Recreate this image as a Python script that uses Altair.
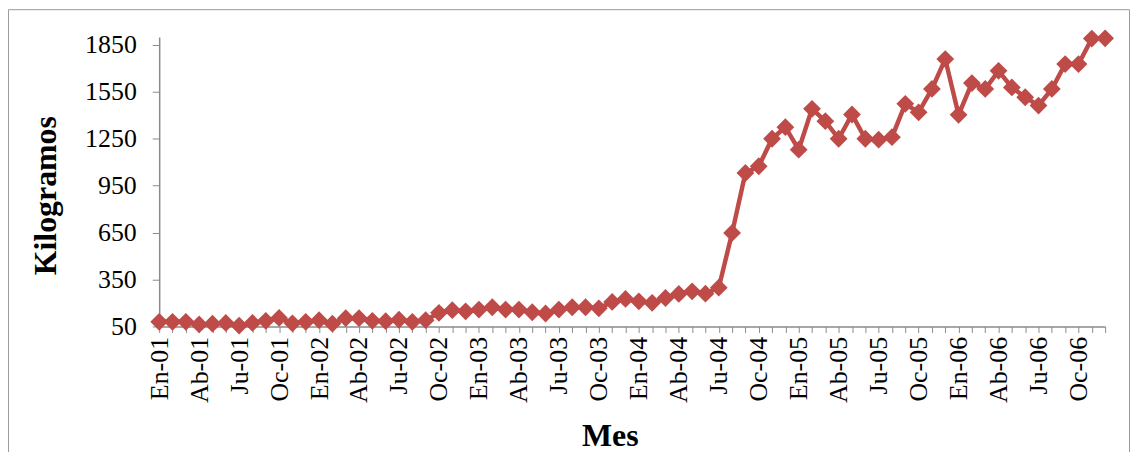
import altair as alt
import pandas as pd

# --- data -------------------------------------------------------------
months = ["En", "Fe", "Mr", "Ab", "My", "Jn", "Ju", "Ag", "Se", "Oc", "No", "Di"]
years = ["01", "02", "03", "04", "05", "06"]
mes = [f"{m}-{y}" for y in years for m in months]

kilogramos = [
    80, 80, 80, 63, 68, 73, 56, 73, 86, 105, 70, 80,            # 2001
    90, 68, 103, 103, 86, 84, 93, 80, 90, 137, 154, 147,        # 2002
    158, 173, 158, 158, 141, 133, 158, 173, 173, 166, 207, 226, # 2003
    211, 201, 232, 258, 275, 260, 298, 648, 1031, 1074, 1250, 1324,  # 2004
    1180, 1441, 1362, 1250, 1405, 1250, 1244, 1260, 1473, 1419, 1568, 1759,  # 2005
    1403, 1606, 1568, 1684, 1578, 1515, 1462, 1568, 1727, 1727, 1890, 1892,  # 2006
]

labeled_months = ["En", "Ab", "Ju", "Oc"]
y_ticks = [50, 350, 650, 950, 1250, 1550, 1850]

df = pd.DataFrame({"Mes": mes, "Kilogramos": kilogramos})

# --- styling ----------------------------------------------------------
FONT = "Liberation Serif"
RED = "#BE4B48"
AXIS_GREY = "#8a8a8a"
W, H = 951, 291

label_list = ",".join(f"'{m}'" for m in labeled_months)
label_expr = f"indexof([{label_list}], slice(datum.value, 0, 2)) >= 0 ? datum.value : ''"

x_enc = alt.X(
    "Mes:O",
    sort=mes,
    scale=alt.Scale(type="point", padding=0),
    axis=alt.Axis(
        title="Mes",
        labelExpr=label_expr,
        labelAngle=-90,
        labelOverlap=False,
        labelFont=FONT,
        labelFontSize=26,
        labelColor="black",
        labelPadding=4,
        tickSize=6,
        tickColor=AXIS_GREY,
        domainColor=AXIS_GREY,
        domainWidth=1.5,
        titleFont=FONT,
        titleFontSize=32,
        titleFontWeight="bold",
        titleColor="black",
        titleX=453,
        titleY=120,
        titleBaseline="alphabetic",
    ),
)

y_enc = alt.Y(
    "Kilogramos:Q",
    scale=alt.Scale(domain=[50, 1900], nice=False, zero=False),
    axis=alt.Axis(
        title="Kilogramos",
        values=y_ticks,
        format="d",
        grid=False,
        labelFont=FONT,
        labelFontSize=26,
        labelColor="black",
        labelPadding=16,
        tickSize=7,
        tickColor=AXIS_GREY,
        domainColor=AXIS_GREY,
        domainWidth=1.5,
        titleFont=FONT,
        titleFontSize=32,
        titleFontWeight="bold",
        titleColor="black",
        titleX=-104,
        titleY=159,
        titleBaseline="alphabetic",
    ),
)

line = alt.Chart(df).mark_line(color=RED, strokeWidth=4.5).encode(x=x_enc, y=y_enc)
points = alt.Chart(df).mark_point(
    shape="diamond", filled=True, color=RED, size=320, opacity=1
).encode(x=x_enc, y=y_enc)

border = alt.Chart(pd.DataFrame({"b": [0]})).mark_rect(
    fillOpacity=0, stroke="#9a9a9a", strokeWidth=1
).encode(
    x=alt.value(-151.5), x2=alt.value(975.5), y=alt.value(-27.5), y2=alt.value(440)
)

chart = (
    alt.layer(border, line, points)
    .properties(
        width=W,
        height=H,
        autosize=alt.AutoSizeParams(type="none"),
        padding={"left": 152, "top": 28, "right": 25, "bottom": 125},
        background="white",
    )
    .configure_view(stroke=None)
)

chart.save("out.html", embed_options={"renderer": "svg", "actions": False})
